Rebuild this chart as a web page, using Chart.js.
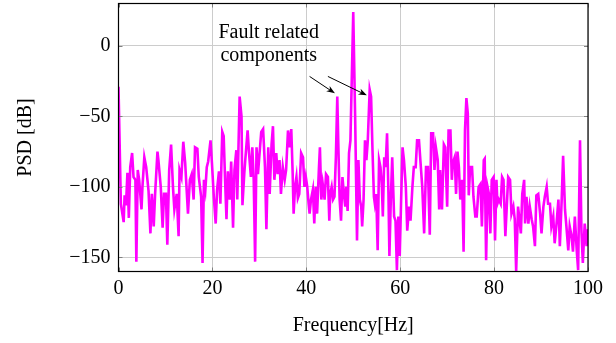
<!DOCTYPE html>
<html>
<head>
<meta charset="utf-8">
<script src="https://cdn.jsdelivr.net/npm/chart.js@4.4.1/dist/chart.umd.min.js"></script>
<style>
  body { margin: 0; background: #fff; }
  canvas { display: block; }
</style>
</head>
<body>
<canvas id="psdChart" width="616" height="343"></canvas>
<script>
// values
const freq = [
  0.0, 0.5, 1.1, 1.3, 1.6, 1.9, 2.2, 2.5, 2.9, 3.2, 3.6, 3.8, 4.1, 4.4, 4.9, 5.1, 5.5, 5.9, 6.4, 6.8,
  7.1, 7.5, 7.8, 8.3, 8.5, 9.0, 9.4, 9.7, 10.1, 10.4, 10.8, 11.2, 11.6, 11.9, 12.4, 12.8, 13.0, 13.4, 13.8, 14.2,
  14.8, 15.2, 15.6, 16.0, 16.3, 16.8, 17.1, 17.6, 17.9, 18.2, 18.5, 18.8, 19.1, 19.6, 19.9, 20.3, 20.7, 21.0, 21.4, 21.7,
  22.1, 22.4, 22.7, 23.0, 23.3, 23.7, 24.0, 24.4, 24.7, 25.1, 25.3, 25.8, 26.2, 26.4, 26.8, 27.0, 27.5, 27.8, 28.2, 28.5,
  28.8, 29.1, 29.4, 29.7, 30.4, 30.8, 31.2, 31.5, 31.9, 32.2, 32.6, 32.9, 33.2, 33.6, 33.9, 34.3, 34.6, 35.0, 35.4, 35.7,
  36.1, 36.4, 36.8, 37.1, 37.3, 37.6, 37.9, 38.2, 38.5, 38.9, 39.3, 39.6, 39.9, 40.2, 40.5, 40.7, 41.0, 41.4, 41.7, 42.0,
  42.3, 42.7, 42.9, 43.2, 43.5, 43.9, 44.2, 44.6, 44.9, 45.1, 45.4, 45.7, 46.0, 46.3, 46.6, 46.8, 47.1, 47.4, 47.7, 48.0,
  48.3, 48.5, 48.8, 49.1, 49.4, 50.0, 50.4, 50.8, 51.1, 51.4, 51.7, 51.9, 52.2, 52.5, 52.8, 53.1, 53.5, 53.8, 54.1, 54.4,
  54.6, 54.9, 55.2, 55.5, 55.8, 56.1, 56.3, 56.6, 56.9, 57.2, 57.5, 57.7, 58.0, 58.3, 58.7, 59.0, 59.3, 59.6, 59.9, 60.2,
  60.5, 60.8, 61.2, 61.5, 61.9, 62.2, 62.6, 62.9, 63.3, 63.6, 64.0, 64.4, 64.7, 65.1, 65.5, 65.9, 66.3, 66.6, 67.0, 67.3,
  67.6, 68.0, 68.3, 68.5, 68.9, 69.3, 69.6, 70.0, 70.3, 70.7, 71.0, 71.2, 71.6, 71.9, 72.2, 72.5, 72.8, 73.2, 73.5, 73.8,
  74.1, 74.4, 74.6, 74.9, 75.3, 75.6, 76.0, 76.3, 76.7, 77.1, 77.4, 77.8, 78.0, 78.3, 78.6, 78.9, 79.2, 79.5, 79.9, 80.2,
  80.5, 80.7, 81.0, 81.4, 81.7, 82.0, 82.4, 83.0, 83.4, 83.7, 84.1, 84.4, 84.7, 85.1, 85.4, 85.7, 86.0, 86.4, 86.6, 86.9,
  87.3, 87.6, 88.0, 88.3, 88.7, 89.0, 89.4, 89.8, 90.1, 90.5, 90.8, 91.2, 91.5, 91.9, 92.2, 92.6, 92.9, 93.3, 93.7, 94.0,
  94.4, 94.7, 95.1, 95.4, 95.8, 96.1, 96.5, 96.8, 97.2, 97.6, 97.9, 98.3, 98.6, 98.9, 99.3, 99.7, 100.0
];
const psd = [
  -29, -112, -125, -106, -113, -90, -122, -86, -76, -93, -95, -153, -88, -95, -116, -100, -79, -86, -103, -133,
  -105, -128, -105, -75, -81, -100, -129, -105, -105, -141, -88, -70, -100, -116, -105, -135, -88, -93, -68, -83,
  -119, -95, -91, -109, -72, -73, -93, -107, -154, -95, -102, -86, -82, -67, -83, -107, -126, -102, -89, -112,
  -61, -64, -95, -123, -89, -109, -82, -129, -88, -74, -109, -36, -50, -113, -90, -81, -60, -76, -93, -72,
  -95, -153, -72, -91, -61, -59, -86, -130, -72, -105, -70, -57, -95, -76, -91, -81, -105, -86, -95, -88,
  -60, -72, -59, -91, -119, -100, -93, -108, -105, -76, -79, -100, -93, -100, -112, -119, -109, -102, -126, -100,
  -119, -86, -72, -109, -98, -109, -91, -93, -124, -105, -100, -109, -107, -79, -36, -67, -109, -124, -93, -105,
  -114, -100, -117, -76, -67, 24, -50, -138, -81, -109, -114, -128, -109, -67, -81, -67, -31, -36, -74, -107,
  -112, -105, -145, -81, -86, -100, -121, -79, -86, -62, -105, -149, -109, -79, -121, -124, -159, -121, -149, -109,
  -72, -81, -100, -131, -114, -124, -100, -86, -86, -67, -67, -86, -100, -133, -86, -86, -134, -62, -62, -88,
  -72, -81, -116, -88, -116, -70, -72, -114, -60, -60, -95, -83, -79, -105, -75, -86, -109, -95, -146, -60,
  -37, -48, -106, -86, -86, -107, -121, -121, -100, -98, -128, -81, -80, -152, -100, -105, -133, -95, -93, -138,
  -95, -112, -109, -112, -93, -95, -135, -93, -95, -119, -114, -123, -160, -114, -123, -133, -105, -95, -126, -107,
  -126, -114, -123, -128, -142, -106, -105, -119, -133, -114, -107, -100, -112, -112, -128, -121, -140, -126, -109, -142,
  -109, -78, -116, -128, -145, -128, -135, -146, -121, -145, -159, -67, -131, -154, -126, -142, -130
];
const xTicks = [0, 20, 40, 60, 80, 100];
const yTicks = [0, -50, -100, -150];

// annotation text and arrows, in data units
const noteLines = ['Fault related', 'components'];
const noteAt = { x: 32.0, y: [5.2, -11.1] };
const arrows = [
  { from: [40.7, -21.7], to: [46.1, -33.7] },
  { from: [44.6, -21.7], to: [52.9, -35.1] }
];

const serif = { family: "'Liberation Serif', 'Times New Roman', serif", size: 20 };
const minus = v => String(v).replace('-', '\u2212');

const framePlugin = {
  id: 'frame',
  afterDraw(chart) {
    const { ctx, chartArea: a, scales } = chart;
    ctx.save();
    // short inside ticks like pgfplots
    ctx.strokeStyle = '#808080';
    ctx.lineWidth = 1;
    ctx.beginPath();
    xTicks.forEach(v => {
      const px = Math.round(scales.x.getPixelForValue(v)) + 0.5;
      ctx.moveTo(px, a.bottom); ctx.lineTo(px, a.bottom - 4);
      ctx.moveTo(px, a.top); ctx.lineTo(px, a.top + 4);
    });
    yTicks.forEach(v => {
      const py = Math.round(scales.y.getPixelForValue(v)) + 0.5;
      ctx.moveTo(a.left, py); ctx.lineTo(a.left + 4, py);
      ctx.moveTo(a.right, py); ctx.lineTo(a.right - 4, py);
    });
    ctx.stroke();
    ctx.strokeStyle = '#000';
    ctx.lineWidth = 1.2;
    ctx.strokeRect(a.left, a.top, a.right - a.left, a.bottom - a.top);

    // annotation
    ctx.fillStyle = '#000';
    ctx.font = serif.size + 'px ' + serif.family;
    ctx.textAlign = 'center';
    ctx.textBaseline = 'alphabetic';
    noteLines.forEach((t, i) => {
      ctx.fillText(t, scales.x.getPixelForValue(noteAt.x), scales.y.getPixelForValue(noteAt.y[i]));
    });
    arrows.forEach(ar => {
      const x1 = scales.x.getPixelForValue(ar.from[0]), y1 = scales.y.getPixelForValue(ar.from[1]);
      const x2 = scales.x.getPixelForValue(ar.to[0]), y2 = scales.y.getPixelForValue(ar.to[1]);
      const ang = Math.atan2(y2 - y1, x2 - x1);
      ctx.beginPath();
      ctx.moveTo(x1, y1);
      ctx.lineTo(x2 - 5 * Math.cos(ang), y2 - 5 * Math.sin(ang));
      ctx.lineWidth = 1;
      ctx.stroke();
      ctx.beginPath();
      ctx.moveTo(x2, y2);
      ctx.lineTo(x2 - 9 * Math.cos(ang - 0.35), y2 - 9 * Math.sin(ang - 0.35));
      ctx.lineTo(x2 - 6 * Math.cos(ang), y2 - 6 * Math.sin(ang));
      ctx.lineTo(x2 - 9 * Math.cos(ang + 0.35), y2 - 9 * Math.sin(ang + 0.35));
      ctx.closePath();
      ctx.fill();
    });
    ctx.restore();
  }
};

const ctx = document.getElementById('psdChart').getContext('2d');
new Chart(ctx, {
  type: 'line',
  data: {
    datasets: [{
      data: freq.map((f, i) => ({ x: f, y: psd[i] })),
      borderColor: '#ff00ff',
      borderWidth: 2.6,
      pointRadius: 0,
      tension: 0,
      fill: false
    }]
  },
  options: {
    responsive: false,
    animation: false,
    layout: { padding: { top: 3.5, right: 28, left: 0, bottom: 0 } },
    plugins: { legend: { display: false }, tooltip: { enabled: false } },
    scales: {
      x: {
        type: 'linear',
        min: 0,
        max: 100,
        afterBuildTicks: s => { s.ticks = xTicks.map(v => ({ value: v })); },
        afterFit: s => { s.height = 71.5; s.paddingLeft = 0; s.paddingRight = 0; },
        grid: { color: '#cccccc', drawTicks: false },
        border: { display: false },
        ticks: { font: serif, color: '#000', padding: 5, maxRotation: 0, callback: v => minus(v) },
        title: { display: true, text: 'Frequency[Hz]', font: serif, color: '#000', padding: { top: 0, bottom: 5 } }
      },
      y: {
        min: -160,
        max: 30,
        afterBuildTicks: s => { s.ticks = yTicks.map(v => ({ value: v })); },
        afterFit: s => { s.width = 118.5; s.paddingTop = 0; s.paddingBottom = 0; },
        grid: { color: '#cccccc', drawTicks: false },
        border: { display: false },
        ticks: { font: serif, color: '#000', padding: 8, callback: v => minus(v) },
        title: { display: true, text: 'PSD [dB]', font: serif, color: '#000', padding: { top: 14, bottom: 0 } }
      }
    }
  },
  plugins: [framePlugin]
});
</script>
</body>
</html>
